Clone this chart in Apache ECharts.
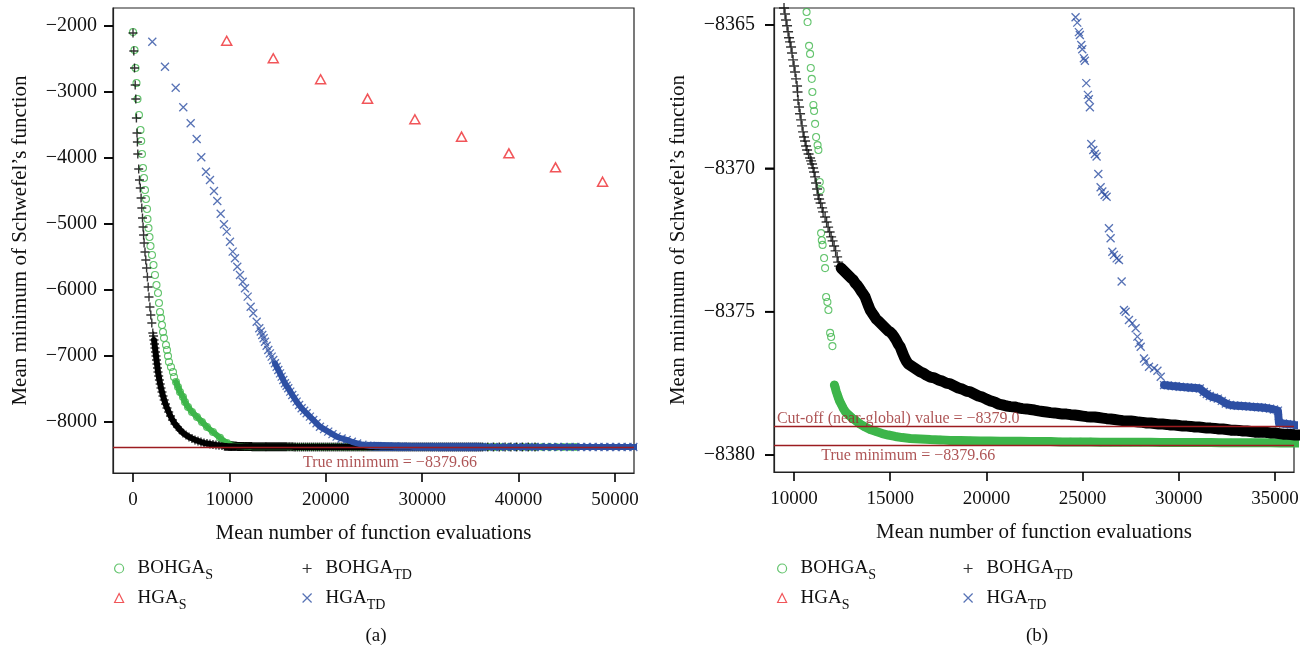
<!DOCTYPE html>
<html><head><meta charset="utf-8">
<script src="https://cdn.jsdelivr.net/npm/echarts@6/dist/echarts.min.js"></script>
<style>html,body{margin:0;padding:0;background:#fff}#c{width:1312px;height:654px}</style>
</head><body><div id="c"></div>
<script>
// ---------------- data ----------------
const seriesNames = ['BOHGA_S', 'HGA_S', 'BOHGA_TD', 'HGA_TD'];
const xTicksA = [0, 10000, 20000, 30000, 40000, 50000];
const yTicksA = [-8000, -7000, -6000, -5000, -4000, -3000, -2000];
const xTicksB = [10000, 15000, 20000, 25000, 30000, 35000];
const yTicksB = [-8380, -8375, -8370, -8365];
const trueMinimum = -8379.66;
const cutOffValue = -8379.0;

// [mean evaluations, mean minimum]
const BOHGA_S = [
[0,-2091],[156,-2364],[259,-2636],[363,-2863],[467,-3106],[622,-3348],[778,-3576],[850,-3742],[933,-3939],[1037,-4151],
[1141,-4303],[1244,-4485],[1348,-4621],[1452,-4772],[1504,-4924],[1607,-5060],[1711,-5197],[1815,-5333],[1970,-5469],[2126,-5621],
[2281,-5772],[2437,-5924],[2593,-6045],[2696,-6197],[2800,-6333],[2904,-6424],[3007,-6530],[3111,-6636],[3215,-6727],[3422,-6833],
[3526,-6909],[3630,-7000],[3733,-7090],[3941,-7166],[4148,-7242],[4252,-7318],[4459,-7394],[4667,-7469],[4874,-7545],[5185,-7621],
[5392,-7697],[5704,-7772],[6118,-7848],[6637,-7924],[7155,-8000],[7674,-8075],[8296,-8151],[9022,-8240],[9748,-8320],[10200,-8350],
[10651,-8364.55],[10703,-8364.90],[10781,-8365.73],[10833,-8366.01],[10870,-8366.50],[10922,-8366.88],[10953,-8367.34],[11005,-8367.79],
[11042,-8368.00],[11094,-8368.45],[11146,-8368.91],[11224,-8369.19],[11266,-8369.36],[11338,-8370.48],[11380,-8370.76],[11406,-8372.26],
[11443,-8372.51],[11484,-8372.67],[11562,-8373.13],[11614,-8373.48],[11667,-8374.49],[11734,-8374.66],[11786,-8374.94],[11875,-8375.74],
[11927,-8375.88],[11995,-8376.20],[12099,-8377.56],[12146,-8377.66],[12187,-8377.77],[12239,-8377.87],[12292,-8377.98],[12370,-8378.12],
[12448,-8378.22],[12552,-8378.36],[12682,-8378.50],[12838,-8378.60],[13021,-8378.71],[13229,-8378.81],[13437,-8378.92],[13698,-8379.02],
[13958,-8379.11],[14271,-8379.18],[14583,-8379.25],[14896,-8379.30],[15260,-8379.35],[15625,-8379.39],[16041,-8379.42],[16562,-8379.44],
[17083,-8379.46],[17604,-8379.47],[18124,-8379.49],[18645,-8379.49],[19166,-8379.50],[19687,-8379.51],[20208,-8379.51],[20729,-8379.52],
[21249,-8379.52],[21770,-8379.52],[22291,-8379.53],[22812,-8379.53],[23332,-8379.53],[23853,-8379.54],[24374,-8379.54],[24895,-8379.54],
[25416,-8379.54],[25937,-8379.55],[26457,-8379.55],[26978,-8379.55],[27499,-8379.55],[28020,-8379.55],[28540,-8379.55],[29061,-8379.56],
[29582,-8379.56],[30103,-8379.56],[30624,-8379.56],[31145,-8379.56],[31665,-8379.56],[32186,-8379.57],[32707,-8379.57],[33228,-8379.57],
[33748,-8379.57],[34269,-8379.57],[34790,-8379.57],[35311,-8379.58],[35832,-8379.58],[36352,-8379.58],[36900,-8379.58],[37600,-8379.59],
[38300,-8379.59],[39000,-8379.59],[39700,-8379.59],[40400,-8379.59],[41100,-8379.60],[41800,-8379.60],[42500,-8379.60],[43200,-8379.60],
[43900,-8379.60],[44600,-8379.60],[45300,-8379.60],[45900,-8379.60]
];

const HGA_S = [
[9720,-2223],[14550,-2489],[19460,-2807],[24330,-3101],[29240,-3413],[34080,-3677],[38990,-3929],[43830,-4141],[48710,-4359]
];

const BOHGA_TD = [
[0,-2106],[83,-2379],[156,-2636],[228,-2894],[290,-3106],[353,-3394],[415,-3621],[456,-3757],[498,-3939],[591,-4166],
[674,-4333],[757,-4454],[840,-4606],[913,-4757],[985,-4909],[1047,-5045],[1099,-5166],[1151,-5288],[1244,-5424],[1327,-5545],
[1410,-5666],[1493,-5803],[1576,-5954],[1659,-6106],[1753,-6257],[1846,-6378],[1950,-6500],[2053,-6651],
[2126,-6697],[2178,-6757],[2230,-6818],[2281,-6879],[2333,-6939],[2385,-7000],[2437,-7060],[2489,-7121],[2541,-7181],[2593,-7242],
[2665,-7303],[2738,-7363],[2821,-7424],[2904,-7484],[3007,-7545],[3111,-7606],[3235,-7666],[3370,-7727],[3526,-7787],[3702,-7848],
[3889,-7909],[4096,-7969],[4355,-8030],[4615,-8075],[4874,-8121],[5185,-8166],[5496,-8196],[5807,-8227],[6118,-8249],[6429,-8272],
[6741,-8287],[7052,-8303],[7363,-8318],[7674,-8325],[7985,-8333],[8296,-8340],[8607,-8348],[8918,-8352],[9229,-8357],
[9479,-8364.41],[9531,-8364.62],[9583,-8364.83],[9635,-8365.03],[9688,-8365.24],[9740,-8365.45],[9792,-8365.59],[9844,-8365.77],
[9896,-8365.98],[9948,-8366.22],[10000,-8366.43],[10052,-8366.64],[10104,-8366.88],[10156,-8367.13],[10182,-8367.34],[10208,-8367.62],
[10260,-8367.86],[10312,-8368.10],[10365,-8368.31],[10417,-8368.52],[10469,-8368.73],[10521,-8368.91],[10573,-8369.05],[10625,-8369.22],
[10677,-8369.36],[10755,-8369.50],[10833,-8369.64],[10885,-8369.74],[10937,-8369.85],[10990,-8369.99],[11042,-8370.13],[11094,-8370.30],
[11146,-8370.51],[11198,-8370.72],[11250,-8370.93],[11302,-8371.07],[11380,-8371.21],[11458,-8371.38],[11510,-8371.52],[11614,-8371.70],
[11693,-8371.87],[11771,-8372.05],[11849,-8372.22],[11927,-8372.39],[12005,-8372.53],[12083,-8372.71],[12161,-8372.88],[12239,-8373.09],
[12292,-8373.27],[12344,-8373.41],[12448,-8373.48],[12552,-8373.55],[12656,-8373.62],[12760,-8373.69],[12864,-8373.76],[12969,-8373.83],
[13073,-8373.89],[13177,-8374.00],[13281,-8374.07],[13385,-8374.17],[13489,-8374.28],[13594,-8374.38],[13698,-8374.49],[13776,-8374.63],
[13854,-8374.77],[13958,-8374.94],[14062,-8375.05],[14167,-8375.15],[14271,-8375.26],[14375,-8375.32],[14479,-8375.39],[14583,-8375.46],
[14687,-8375.53],[14791,-8375.60],[14896,-8375.67],[15000,-8375.71],[15104,-8375.78],[15208,-8375.88],[15312,-8375.99],[15416,-8376.13],
[15520,-8376.23],[15625,-8376.41],[15729,-8376.58],[15833,-8376.72],[15937,-8376.82],[16093,-8376.89],[16250,-8376.96],[16406,-8377.03],
[16562,-8377.10],[16718,-8377.14],[16875,-8377.21],[17083,-8377.28],[17291,-8377.31],[17500,-8377.38],[17708,-8377.42],[17916,-8377.49],
[18124,-8377.52],[18333,-8377.59],[18541,-8377.66],[18749,-8377.70],[18958,-8377.77],[19166,-8377.80],[19374,-8377.87],[19583,-8377.94],
[19791,-8377.98],[19999,-8378.05],[20208,-8378.11],[20416,-8378.15],[20624,-8378.22],[20833,-8378.25],[21041,-8378.29],[21249,-8378.31],
[21458,-8378.32],[21666,-8378.36],[21874,-8378.38],[22083,-8378.39],[22291,-8378.41],[22499,-8378.43],[22708,-8378.46],[22916,-8378.48],
[23124,-8378.50],[23332,-8378.52],[23541,-8378.53],[23749,-8378.55],[23957,-8378.57],[24166,-8378.57],[24374,-8378.59],[24582,-8378.60],
[24791,-8378.62],[24999,-8378.64],[25207,-8378.66],[25416,-8378.67],[25624,-8378.67],[25832,-8378.69],[26041,-8378.71],[26249,-8378.73],
[26457,-8378.74],[26666,-8378.76],[26874,-8378.78],[27082,-8378.80],[27291,-8378.81],[27499,-8378.81],[27707,-8378.83],[27916,-8378.85],
[28124,-8378.86],[28332,-8378.88],[28540,-8378.88],[28749,-8378.90],[28957,-8378.92],[29165,-8378.92],[29374,-8378.93],[29582,-8378.95],
[29790,-8378.95],[29999,-8378.97],[30207,-8378.99],[30415,-8378.99],[30624,-8379.00],[30832,-8379.02],[31040,-8379.02],[31249,-8379.04],
[31457,-8379.06],[31665,-8379.06],[31874,-8379.07],[32082,-8379.09],[32290,-8379.09],[32499,-8379.11],[32707,-8379.13],[32915,-8379.13],
[33124,-8379.14],[33332,-8379.16],[33540,-8379.16],[33748,-8379.18],[33957,-8379.20],[34165,-8379.20],[34373,-8379.20],[34582,-8379.21],
[34790,-8379.23],[34998,-8379.23],[35207,-8379.25],[35415,-8379.27],[35623,-8379.27],[35832,-8379.28],[36040,-8379.30],[36248,-8379.30],
[36800,-8379.31],[37400,-8379.32],[38000,-8379.33],[38600,-8379.34],[39200,-8379.35],[39800,-8379.35],[40400,-8379.36],[41000,-8379.37],
[41700,-8379.38]
];

const HGA_TD = [
[2001,-2238],[3318,-2617],[4428,-2935],[5216,-3232],[5983,-3474],[6606,-3712],[7083,-3989],[7570,-4207],[7985,-4333],[8400,-4500],
[8742,-4651],[9095,-4844],[9437,-5004],[9717,-5116],[10059,-5268],[10339,-5419],[10577,-5519],[10816,-5647],[11096,-5772],[11376,-5874],
[11614,-5974],[11894,-6101],[12205,-6253],[12475,-6353],[12828,-6480],[13097,-6580],[13250,-6630],[13408,-6681],[13550,-6732],[13688,-6783],
[13860,-6846],[14031,-6909],[14200,-6960],[14383,-7010],[14550,-7060],[14725,-7111],[14900,-7162],[15068,-7212],[15250,-7263],[15420,-7313],
[15590,-7364],[15762,-7414],[15930,-7452],[16104,-7489],[16310,-7540],[16519,-7590],[16750,-7641],[16975,-7692],[17230,-7742],[17494,-7792],
[17750,-7830],[18013,-7868],[18350,-7919],[18697,-7969],[19040,-8020],[19392,-8071],[19820,-8108],[20253,-8146],[20690,-8184],[21124,-8222],
[21640,-8250],[22161,-8272],[22700,-8300],[23250,-8325],[23800,-8345],[24300,-8358],
[24634,-8364.73],[24723,-8364.92],[24806,-8365.25],[24858,-8365.35],[24931,-8365.70],[24983,-8365.85],[25067,-8366.16],[25119,-8366.25],
[25192,-8367.03],[25275,-8367.44],[25327,-8367.59],[25379,-8367.87],[25452,-8369.15],[25556,-8369.36],[25640,-8369.50],[25728,-8369.59],
[25817,-8370.20],[25937,-8370.66],[26025,-8370.81],[26145,-8370.93],[26249,-8370.99],[26369,-8372.09],[26457,-8372.44],[26546,-8372.91],
[26629,-8373.02],[26770,-8373.14],[26890,-8373.20],[27030,-8373.95],[27150,-8374.94],[27238,-8375.00],[27410,-8375.29],[27587,-8375.40],
[27759,-8375.58],[27848,-8375.87],[27931,-8376.10],[28020,-8376.22],[28192,-8376.63],[28280,-8376.74],[28452,-8376.92],[28713,-8376.97],
[28890,-8377.06],[29062,-8377.27],[29234,-8377.56],[29426,-8377.57],[29634,-8377.59],[29843,-8377.60],[30051,-8377.62],[30259,-8377.63],
[30467,-8377.64],[30676,-8377.65],[30884,-8377.66],[31092,-8377.68],[31301,-8377.80],[31457,-8377.87],[31613,-8377.94],[31822,-8377.99],
[32030,-8378.03],[32238,-8378.11],[32446,-8378.20],[32655,-8378.25],[32863,-8378.27],[33071,-8378.28],[33280,-8378.29],[33488,-8378.30],
[33696,-8378.31],[33905,-8378.32],[34113,-8378.33],[34321,-8378.34],[34529,-8378.36],[34738,-8378.38],[34946,-8378.41],[35154,-8378.45],
[35207,-8378.88],[35415,-8378.90],[35623,-8378.92],[35832,-8378.93],[36040,-8378.95],[36248,-8378.96],
[36900,-8378.97],[37500,-8378.98],[38100,-8378.99],[38700,-8379.00],[39300,-8379.01],[39900,-8379.02],[40500,-8379.03],[41100,-8379.04],
[41700,-8379.05],[42300,-8379.06],[42900,-8379.07],[43500,-8379.08],[44100,-8379.09],[44700,-8379.10],[45300,-8379.11],[45900,-8379.12],
[46500,-8379.13],[47100,-8379.14],[47700,-8379.15],[48300,-8379.16],[48900,-8379.17],[49500,-8379.18],[50100,-8379.19],[50700,-8379.20],
[51300,-8379.21],[51900,-8379.22],[52500,-8379.23]
];

// ---------------- style ----------------
const SERIF = '"Liberation Serif", "Times New Roman", serif';
const INK = '#111111';
const LINE_RED = '#9c1c20';
const C = { g: '#3db54a', r: '#ee2a2f', k: '#000000', b: '#2d4fa3' };
const PLUS = 'path://M0,5L10,5M5,0L5,10';
const CROSS = 'path://M0,0L10,10M0,10L10,0';
const panels = [
  { band: { g: 4400, k: 2150, b: 14700 }, bandW: { g: 6, k: 6, b: 6 }, plus: 9 },
  { band: { g: 12090, k: 12400, b: 29200 }, bandW: { g: 9, k: 11, b: 8 }, plus: 10 }
];
const fmtNum = v => (v < 0 ? '\u2212' : '') + Math.abs(v);
const fmtDec = (v, d) => (v < 0 ? '\u2212' : '') + Math.abs(v).toFixed(d);

function scatter(p, name, data, symbol, size, color, bw) {
  return { type: 'scatter', name, xAxisIndex: p, yAxisIndex: p, data, symbol, symbolSize: size,
    silent: true, clip: true, emphasis: { disabled: true },
    itemStyle: { color: 'rgba(0,0,0,0)', borderColor: color, borderWidth: bw } };
}
function band(p, data, from, color, w) {
  return { type: 'line', name: 'band', xAxisIndex: p, yAxisIndex: p,
    data: data.filter(d => d[0] >= from), showSymbol: false, symbol: 'none', silent: true, clip: true,
    emphasis: { disabled: true }, lineStyle: { color, width: w, join: 'round', cap: 'round' } };
}
function note(p, x, y, text, position, distance, lines) {
  return { type: 'scatter', name: 'note', xAxisIndex: p, yAxisIndex: p, z: 10, silent: true,
    symbolSize: 0, data: [[x, y]],
    label: { show: true, position, distance, formatter: text, color: '#9a2a2c', fontFamily: SERIF, fontSize: 16 },
    markLine: { silent: true, symbol: 'none', animation: false, label: { show: false },
      lineStyle: { color: LINE_RED, width: 1.3, type: 'solid' }, data: lines.map(v => ({ yAxis: v })) } };
}

const series = [];
[0, 1].forEach(p => {
  const P = panels[p];
  series.push(band(p, BOHGA_S, P.band.g, C.g, P.bandW.g));
  series.push(scatter(p, 'BOHGA_S', BOHGA_S, 'circle', 7, C.g, 1.1));
  series.push(scatter(p, 'HGA_S', HGA_S, 'triangle', [10, 9], C.r, 1.5));
  series.push(band(p, BOHGA_TD, P.band.k, C.k, P.bandW.k));
  series.push(scatter(p, 'BOHGA_TD', BOHGA_TD, PLUS, P.plus, C.k, 1.4));
  series.push(band(p, HGA_TD, P.band.b, C.b, P.bandW.b));
  series.push(scatter(p, 'HGA_TD', HGA_TD, CROSS, 8, C.b, 1.3));
});
series.push(note(0, 26651, trueMinimum, 'True minimum = ' + fmtDec(trueMinimum, 2), 'bottom', 8, [trueMinimum]));
series.push(note(1, 15937, trueMinimum, 'True minimum = ' + fmtDec(trueMinimum, 2), 'bottom', 2, [trueMinimum, cutOffValue]));
series.push(note(1, 15416, cutOffValue, 'Cut-off (near-global) value = ' + fmtDec(cutOffValue, 1), 'top', 0, []));

function xAxis(p, min, max, ticks) {
  return { type: 'value', gridIndex: p, min, max,
    name: 'Mean number of function evaluations', nameLocation: 'middle', nameGap: 50,
    nameTextStyle: { fontFamily: SERIF, fontSize: 21, color: INK },
    axisLine: { show: true, onZero: false, lineStyle: { color: '#222', width: 1.2 } }, splitLine: { show: false },
    axisTick: { show: true, customValues: ticks, length: 9, lineStyle: { color: '#000', width: 1.6 } },
    axisLabel: { customValues: ticks, margin: 18, fontFamily: SERIF, fontSize: 19, color: INK, formatter: fmtNum } };
}
// y tick marks are carried by the label itself (a 9px dash token next to the axis)
function yAxis(p, min, max, ticks, gap, labelGap) {
  return { type: 'value', gridIndex: p, min, max,
    name: 'Mean minimum of Schwefel\u2019s function', nameLocation: 'middle', nameGap: gap,
    nameTextStyle: { fontFamily: SERIF, fontSize: 21, color: INK },
    axisLine: { show: true, onZero: false, lineStyle: { color: '#222', width: 1.2 } }, splitLine: { show: false },
    axisTick: { show: true, customValues: ticks, length: 9, lineStyle: { color: '#000', width: 1.6 } },
    axisLabel: { customValues: ticks, margin: 0, fontFamily: SERIF, fontSize: 20, color: INK,
      formatter: v => '{n|' + fmtNum(v) + '}{g| }{t| }',
      rich: { n: { fontFamily: SERIF, fontSize: 20, color: INK },
              g: { width: labelGap, fontSize: 2 },
              t: { width: 9, height: 1.6, lineHeight: 2, fontSize: 1, backgroundColor: '#000' } } } };
}
function legend(left, names) {
  return { left, top: 559, orient: 'vertical', padding: 0, itemGap: 6, itemWidth: 9, itemHeight: 9,
    data: names, selectedMode: false, itemStyle: { borderWidth: 1.2 },
    textStyle: { color: INK, fontFamily: SERIF, fontSize: 19,
      rich: { m: { fontSize: 19, lineHeight: 28, fontFamily: SERIF, color: INK, padding: [0, 0, 0, 9] },
              s: { fontSize: 14, lineHeight: 14, verticalAlign: 'bottom', fontFamily: SERIF, color: INK } } },
    formatter: n => { const parts = n.split('_'); return '{m|' + parts[0] + '}{s|' + parts[1] + '}'; } };
}

const option = {
  animation: false,
  backgroundColor: '#ffffff',
  textStyle: { fontFamily: SERIF },
  grid: [
    { left: 113, top: 8, width: 521, height: 465, show: true, borderColor: '#222', borderWidth: 1.2 },
    { left: 774, top: 8, width: 520, height: 464, show: true, borderColor: '#222', borderWidth: 1.2 }
  ],
  xAxis: [xAxis(0, -2075, 51970, xTicksA), xAxis(1, 8958, 35990, xTicksB)],
  yAxis: [yAxis(0, -8773, -1727, yTicksA, 82, 7), yAxis(1, -8380.59, -8364.41, yTicksB, 85, 10)],
  legend: [
    legend(114, [seriesNames[0], seriesNames[1]]),
    legend(302, [seriesNames[2], seriesNames[3]]),
    legend(777, [seriesNames[0], seriesNames[1]]),
    legend(963, [seriesNames[2], seriesNames[3]])
  ],
  graphic: [
    { type: 'text', x: 376, y: 636, style: { text: '(a)', font: '19px ' + SERIF, fill: INK, align: 'center', verticalAlign: 'middle' } },
    { type: 'text', x: 1037, y: 636, style: { text: '(b)', font: '19px ' + SERIF, fill: INK, align: 'center', verticalAlign: 'middle' } }
  ],
  series
};

const chart = echarts.init(document.getElementById('c'), null, { renderer: 'canvas' });
chart.setOption(option);
</script>
</body></html>
